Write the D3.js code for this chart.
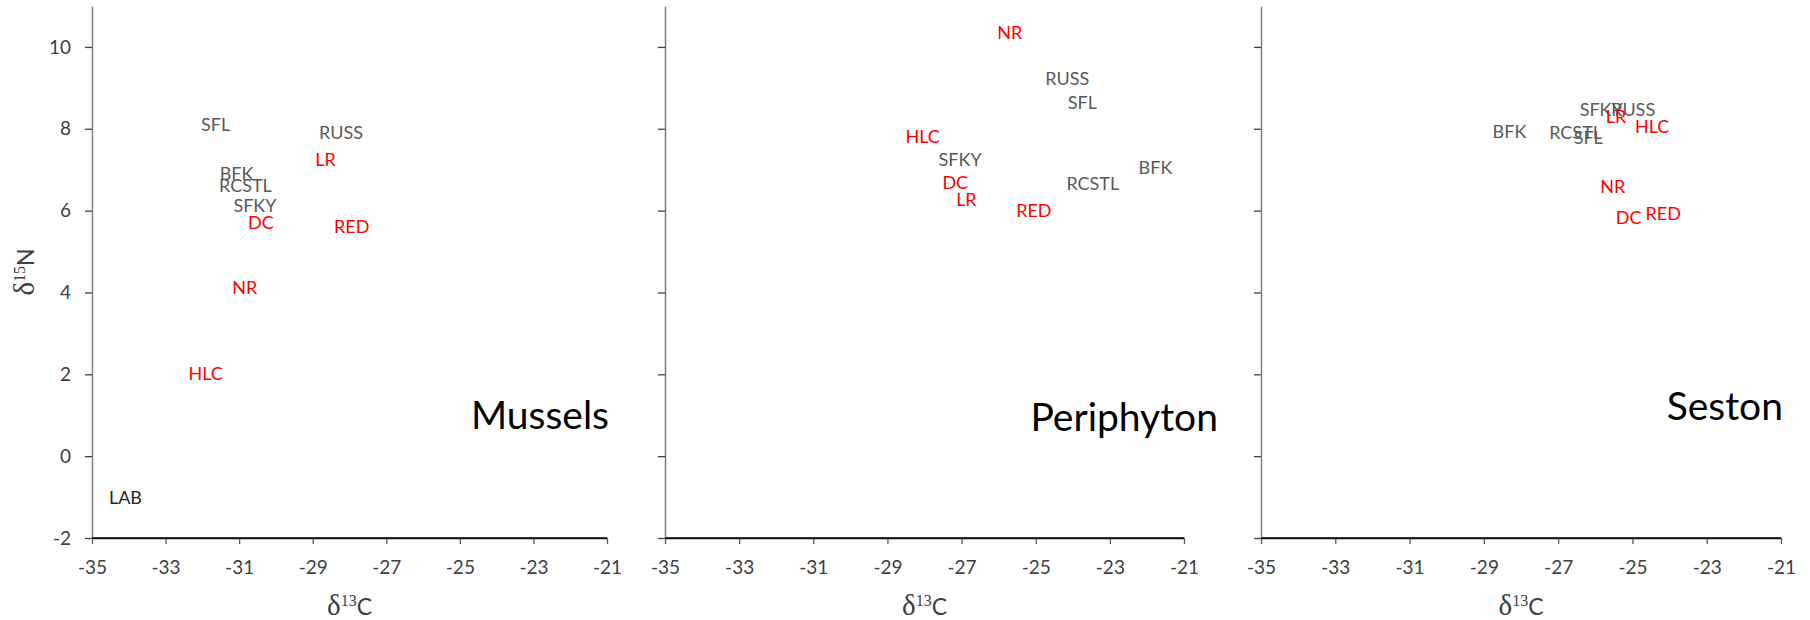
<!DOCTYPE html>
<html>
<head>
<meta charset="utf-8">
<script src="https://cdn.jsdelivr.net/npm/d3@7"></script>
<style>
  html, body { margin: 0; padding: 0; background: #fff; }
  svg { display: block; font-family: Lato, "Open Sans", sans-serif; }
</style>
</head>
<body>
<svg id="chart" width="1810" height="620"></svg>
<script>
// Stable isotope biplots (δ13C vs δ15N) for three food-web compartments
const panelNames = ["Mussels", "Periphyton", "Seston"];
const redSites = ["LR", "DC", "RED", "NR", "HLC"];
const darkSites = ["LAB"];

const musselSites = ["SFL", "RUSS", "LR", "BFK", "RCSTL", "SFKY", "DC", "RED", "NR", "HLC", "LAB"];
const musselC = [-31.64, -28.23, -28.65, -31.07, -30.83, -30.57, -30.41, -27.94, -30.85, -31.91, -34.09];
const musselN = [8.11, 7.92, 7.25, 6.91, 6.62, 6.13, 5.72, 5.60, 4.12, 2.02, -1.01];

const periphytonSites = ["NR", "RUSS", "SFL", "HLC", "SFKY", "BFK", "DC", "RCSTL", "LR", "RED"];
const periphytonC = [-25.70, -24.15, -23.74, -28.05, -27.04, -21.77, -27.17, -23.46, -26.87, -25.05];
const periphytonN = [10.34, 9.23, 8.63, 7.82, 7.25, 7.05, 6.69, 6.66, 6.28, 6.01];

const sestonSites = ["BFK", "RCSTL", "SFL", "SFKY", "RUSS", "LR", "HLC", "NR", "DC", "RED"];
const sestonC = [-28.31, -26.53, -26.19, -25.84, -24.98, -25.44, -24.47, -25.53, -25.10, -24.17];
const sestonN = [7.93, 7.90, 7.78, 8.47, 8.47, 8.29, 8.06, 6.58, 5.84, 5.93];

const xTicks = [-35, -33, -31, -29, -27, -25, -23, -21];
const yTicks = [-2, 0, 2, 4, 6, 8, 10];
const xDomain = [-35, -21];
const yDomain = [-2, 11];

// Build per-panel records from the arrays above
const panelSites = [musselSites, periphytonSites, sestonSites];
const panelC = [musselC, periphytonC, sestonC];
const panelN = [musselN, periphytonN, sestonN];
const panels = panelNames.map((name, i) => ({
  name,
  points: panelSites[i].map((s, j) => ({ site: s, c: panelC[i][j], n: panelN[i][j] }))
}));

// Layout
const plotLeft = [92, 665, 1261];
const plotRight = [607, 1184, 1781];
const plotTop = 6, plotBottom = 538;
const nameEnd = [609, 1218, 1783];
const nameBaseline = [429, 431, 420];

const svg = d3.select("#chart");
const y = d3.scaleLinear().domain(yDomain).range([plotBottom, plotTop]);
const plainNumber = d => String(d); // hyphen-minus, as in the printed axes

function siteColor(s) {
  if (redSites.includes(s)) return "#ff0000";
  if (darkSites.includes(s)) return "#262626";
  return "#595959";
}

const serif = "'Liberation Serif', 'DejaVu Serif', serif";

panels.forEach((p, i) => {
  const x = d3.scaleLinear().domain(xDomain).range([plotLeft[i], plotRight[i]]);
  const g = svg.append("g");

  // x axis
  const xa = g.append("g")
    .attr("transform", `translate(0,${plotBottom})`)
    .call(d3.axisBottom(x).tickValues(xTicks).tickFormat(plainNumber)
      .tickSize(6).tickSizeOuter(0).tickPadding(17));
  xa.select(".domain").attr("stroke", "#0d0d0d").attr("stroke-width", 1.5);
  xa.selectAll(".tick line").attr("stroke", "#595959").attr("stroke-width", 1.3);
  xa.selectAll(".tick text").attr("fill", "#404040")
    .style("font-family", "Lato, sans-serif").style("font-size", "19px");

  // y axis (labels only on the first panel)
  const ya = g.append("g")
    .attr("transform", `translate(${plotLeft[i]},0)`)
    .call(d3.axisLeft(y).tickValues(yTicks).tickFormat(i === 0 ? plainNumber : () => "")
      .tickSize(7).tickSizeOuter(0).tickPadding(14));
  ya.select(".domain").attr("stroke", "#7f7f7f").attr("stroke-width", 1.5);
  ya.selectAll(".tick line").attr("stroke", "#404040").attr("stroke-width", 1.3);
  ya.selectAll(".tick text").attr("fill", "#404040")
    .style("font-family", "Lato, sans-serif").style("font-size", "19px");

  // redraw x-axis line on top so the corner stays dark
  g.append("line")
    .attr("x1", plotLeft[i]).attr("x2", plotRight[i])
    .attr("y1", plotBottom).attr("y2", plotBottom)
    .attr("stroke", "#0d0d0d").attr("stroke-width", 1.5);

  // site labels placed at their (δ13C, δ15N) positions
  g.append("g").selectAll("text")
    .data(p.points)
    .join("text")
    .attr("x", d => x(d.c))
    .attr("y", d => y(d.n))
    .attr("dy", "0.36em")
    .attr("text-anchor", "middle")
    .attr("fill", d => siteColor(d.site))
    .style("font-size", "18px")
    .text(d => d.site);

  // panel name
  g.append("text")
    .attr("x", nameEnd[i])
    .attr("y", nameBaseline[i])
    .attr("text-anchor", "end")
    .attr("fill", "#000")
    .style("font-size", "39px")
    .text(p.name);

  // x-axis title δ13C
  const xt = g.append("text")
    .attr("x", (plotLeft[i] + plotRight[i]) / 2)
    .attr("y", 615)
    .attr("text-anchor", "middle")
    .attr("fill", "#404040");
  xt.append("tspan").style("font-family", serif).style("font-size", "29px").text("δ");
  xt.append("tspan").attr("dy", -9).style("font-family", serif).style("font-size", "16px").text("13");
  xt.append("tspan").attr("dy", 9).style("font-size", "23px").text("C");
});

// y-axis title δ15N
const yt = svg.append("text")
  .attr("transform", `translate(34,${(plotTop + plotBottom) / 2}) rotate(-90)`)
  .attr("text-anchor", "middle")
  .attr("fill", "#404040");
yt.append("tspan").style("font-family", serif).style("font-size", "29px").text("δ");
yt.append("tspan").attr("dy", -9).style("font-family", serif).style("font-size", "16px").text("15");
yt.append("tspan").attr("dy", 9).style("font-size", "23px").text("N");
</script>
</body>
</html>
